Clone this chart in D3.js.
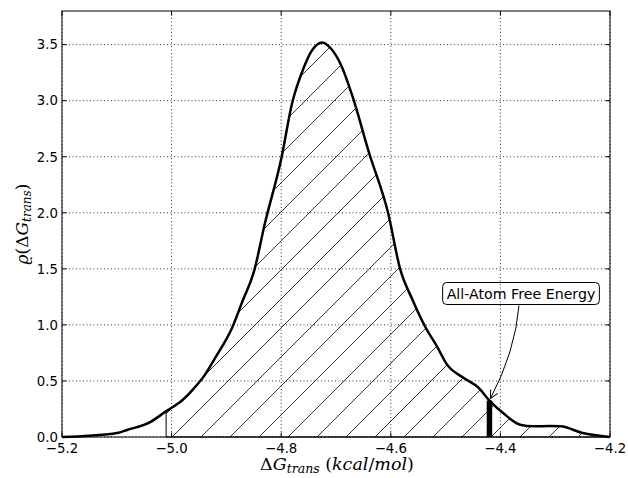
<!DOCTYPE html>
<html>
<head>
<meta charset="utf-8">
<script src="https://cdn.jsdelivr.net/npm/d3@7"></script>
<style>
  body { margin: 0; background: #fff; }
  text { font-family: "DejaVu Sans", sans-serif; }
</style>
</head>
<body>
<svg id="chart" width="628" height="478"></svg>
<script>
// density curve
var energies = [-5.20, -5.15, -5.10, -5.08, -5.04, -5.01, -4.98, -4.96, -4.94, -4.92,
                -4.89, -4.87, -4.85, -4.83, -4.80, -4.78, -4.76, -4.745, -4.725, -4.71,
                -4.69, -4.67, -4.64, -4.605, -4.583, -4.56, -4.538, -4.516, -4.498, -4.468,
                -4.44, -4.42, -4.395, -4.364, -4.34, -4.31, -4.29, -4.25, -4.20];
var densities = [0.000, 0.012, 0.035, 0.065, 0.13, 0.23, 0.33, 0.43, 0.55, 0.71,
                 0.97, 1.22, 1.47, 1.90, 2.48, 2.98, 3.28, 3.44, 3.52, 3.47,
                 3.31, 3.04, 2.54, 2.00, 1.50, 1.22, 0.99, 0.81, 0.65, 0.53,
                 0.44, 0.325, 0.214, 0.11, 0.095, 0.098, 0.095, 0.036, 0.000];

var xTicks = [-5.2, -5.0, -4.8, -4.6, -4.4, -4.2];
var yTicks = [0.0, 0.5, 1.0, 1.5, 2.0, 2.5, 3.0, 3.5];

var fillStart = -5.01;
var allAtomEnergy = -4.42;
var allAtomDensity = 0.325;
var noteText = "All-Atom Free Energy";
var noteAt = [-4.3624, 1.28];

var margin = {left: 62, top: 11, right: 18, bottom: 41};
var W = 628 - margin.left - margin.right;
var H = 478 - margin.top - margin.bottom;

var svg = d3.select("#chart");
var g = svg.append("g")
    .attr("transform", `translate(${margin.left}, ${margin.top})`);

var x = d3.scaleLinear().domain([-5.2, -4.2]).range([0, W]);
var y = d3.scaleLinear().domain([0, 3.8]).range([H, 0]);

var points = energies.map(function(e, i) { return [e, densities[i]]; });

// hatch pattern, lines lined up with the page origin
var defs = svg.append("defs");
var pat = defs.append("pattern")
    .attr("id", "hatch")
    .attr("patternUnits", "userSpaceOnUse")
    .attr("x", 14).attr("y", 0)
    .attr("width", 29).attr("height", 29);
pat.append("path")
    .attr("d", "M0,29 L29,0 M-2,2 L2,-2 M27,31 L31,27")
    .attr("stroke", "#000")
    .attr("stroke-width", 0.8)
    .attr("fill", "none");

defs.append("marker")
    .attr("id", "arrow")
    .attr("viewBox", "-10 -6 12 12")
    .attr("refX", 0).attr("refY", 0)
    .attr("markerWidth", 12).attr("markerHeight", 12)
    .attr("markerUnits", "userSpaceOnUse")
    .attr("orient", "auto")
  .append("path")
    .attr("d", "M-8,-4 L0,0 L-8,4")
    .attr("fill", "none")
    .attr("stroke", "#000")
    .attr("stroke-width", 1);

// grid
g.append("g").selectAll("line")
  .data(xTicks)
  .join("line")
    .attr("x1", d => x(d)).attr("x2", d => x(d))
    .attr("y1", 0).attr("y2", H)
    .attr("stroke", "#000")
    .attr("stroke-width", 0.8)
    .attr("stroke-dasharray", "1,2.5");

g.append("g").selectAll("line")
  .data(yTicks)
  .join("line")
    .attr("x1", 0).attr("x2", W)
    .attr("y1", d => y(d)).attr("y2", d => y(d))
    .attr("stroke", "#000")
    .attr("stroke-width", 0.8)
    .attr("stroke-dasharray", "1,2.5");

// hatched area
var area = d3.area()
    .x(d => x(d[0]))
    .y0(y(0))
    .y1(d => y(d[1]))
    .curve(d3.curveMonotoneX);

g.append("path")
    .datum(points.filter(d => d[0] >= fillStart - 1e-9))
    .attr("d", area)
    .attr("fill", "url(#hatch)")
    .attr("stroke", "#000")
    .attr("stroke-width", 1);

// density line
var line = d3.line()
    .x(d => x(d[0]))
    .y(d => y(d[1]))
    .curve(d3.curveMonotoneX);

g.append("path")
    .datum(points)
    .attr("d", line)
    .attr("fill", "none")
    .attr("stroke", "#000")
    .attr("stroke-width", 2.5)
    .attr("stroke-linejoin", "round");

// all-atom marker bar
g.append("line")
    .attr("x1", x(allAtomEnergy)).attr("x2", x(allAtomEnergy))
    .attr("y1", y(0)).attr("y2", y(allAtomDensity))
    .attr("stroke", "#000")
    .attr("stroke-width", 5.5);

// frame
g.append("rect")
    .attr("x", 0).attr("y", 0)
    .attr("width", W).attr("height", H)
    .attr("fill", "none")
    .attr("stroke", "#000")
    .attr("stroke-width", 1);

// inward ticks on all sides
var tl = 4.5;
var ticks = g.append("g").attr("stroke", "#000").attr("stroke-width", 1);
xTicks.forEach(function(t) {
  ticks.append("line").attr("x1", x(t)).attr("x2", x(t)).attr("y1", H).attr("y2", H - tl);
  ticks.append("line").attr("x1", x(t)).attr("x2", x(t)).attr("y1", 0).attr("y2", tl);
});
yTicks.forEach(function(t) {
  ticks.append("line").attr("x1", 0).attr("x2", tl).attr("y1", y(t)).attr("y2", y(t));
  ticks.append("line").attr("x1", W).attr("x2", W - tl).attr("y1", y(t)).attr("y2", y(t));
});

var fmt = d3.format(".1f");

g.append("g").selectAll("text")
  .data(xTicks)
  .join("text")
    .attr("x", d => x(d))
    .attr("y", H + 15.5)
    .attr("text-anchor", "middle")
    .attr("font-size", 13.3)
    .text(d => fmt(d));

g.append("g").selectAll("text")
  .data(yTicks)
  .join("text")
    .attr("x", -4)
    .attr("y", d => y(d))
    .attr("dy", "0.36em")
    .attr("text-anchor", "end")
    .attr("font-size", 13.3)
    .text(d => fmt(d));

// axis labels
var xl = svg.append("text")
    .attr("x", 337)
    .attr("y", 470)
    .attr("text-anchor", "middle")
    .style("font-family", "'DejaVu Serif', serif")
    .attr("font-size", 17.5);
xl.append("tspan").text("\u0394");
xl.append("tspan").attr("font-style", "italic").text("G");
xl.append("tspan").attr("font-style", "italic").attr("font-size", 12.5).attr("dy", 3).text("trans");
xl.append("tspan").attr("dy", -3).text(" (");
xl.append("tspan").attr("font-style", "italic").text("kcal");
xl.append("tspan").text("/");
xl.append("tspan").attr("font-style", "italic").text("mol");
xl.append("tspan").text(")");

var yl = svg.append("text")
    .attr("transform", "translate(28, 224) rotate(-90)")
    .attr("text-anchor", "middle")
    .style("font-family", "'DejaVu Serif', serif")
    .attr("font-size", 17);
yl.append("tspan").attr("font-style", "italic").text("\u03F1");
yl.append("tspan").text("(\u0394");
yl.append("tspan").attr("font-style", "italic").text("G");
yl.append("tspan").attr("font-style", "italic").attr("font-size", 12).attr("dy", 3).text("trans");
yl.append("tspan").attr("dy", -3).text(")");

// annotation
var note = g.append("g")
    .attr("transform", `translate(${x(noteAt[0])}, ${y(noteAt[1])})`);
var noteLabel = note.append("text")
    .attr("text-anchor", "middle")
    .attr("dy", "0.36em")
    .attr("font-size", 14.2)
    .text(noteText);
var bb = noteLabel.node().getBBox();
note.insert("rect", "text")
    .attr("x", bb.x - 4).attr("y", -11)
    .attr("width", bb.width + 8).attr("height", 22)
    .attr("rx", 4).attr("ry", 4)
    .attr("fill", "none")
    .attr("stroke", "#000")
    .attr("stroke-width", 1);

var p0 = [x(noteAt[0]) - 2, y(noteAt[1]) + 12];
var p2 = [x(allAtomEnergy) + 1, y(allAtomDensity) - 2];
var ctrl = [p0[0] - 4, (p0[1] + p2[1]) / 2];
g.append("path")
    .attr("d", `M${p0[0]},${p0[1]} Q${ctrl[0]},${ctrl[1]} ${p2[0]},${p2[1]}`)
    .attr("fill", "none")
    .attr("stroke", "#000")
    .attr("stroke-width", 1)
    .attr("marker-end", "url(#arrow)");
</script>
</body>
</html>
